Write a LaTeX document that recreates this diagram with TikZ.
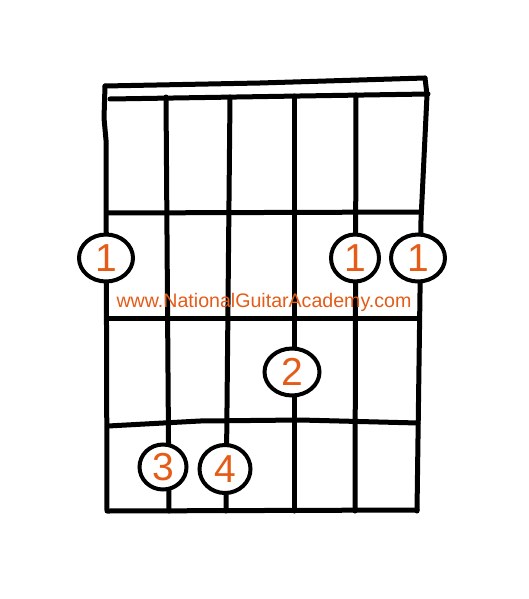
\documentclass[tikz,border=0pt]{standalone}
\usepackage{fontspec}
\setmainfont{Liberation Sans}
\usetikzlibrary{shapes.geometric}
\definecolor{ngaorange}{RGB}{228,92,24}
\begin{document}
\begin{tikzpicture}[x=1pt,y=-1pt,
  grid/.style={line width=5pt,line cap=round,line join=round,black},
  finger/.style={ellipse,draw=black,line width=4pt,fill=white,inner sep=0pt,
    text=ngaorange,font=\fontsize{39}{39}\selectfont},
  url/.style={text=ngaorange,font=\fontsize{19.6}{19.6}\selectfont,inner sep=0pt}]
\useasboundingbox[fill=white] (0,0) rectangle (528,599);
% frame
\draw[grid] (107,511) -- (106,140) -- (104,118) -- (105,86);
\draw[grid] (105,86) -- (260,83) -- (425,78);
\draw[grid] (425,78) -- (427,95) -- (421,220) -- (417,511);
\draw[grid] (110,99) -- (300,96) -- (428,94);
% frets
\draw[grid] (107,213) -- (420,212);
\draw[grid] (107,318) -- (419,318);
\draw[grid] (108,426) -- (200,421) -- (300,420) -- (418,423);
\draw[grid] (108,511) -- (417,510);
% strings
\draw[grid] (166,97) -- (169,511);
\draw[grid] (230,97) -- (226,511);
\draw[grid] (294,96) -- (294,511);
\draw[grid] (356,95) -- (355,511);
% fingers
\node[finger,minimum width=54pt,minimum height=47pt] (fa) at (106,258) {1};
\node[finger,minimum width=48pt,minimum height=47pt] (fb) at (355,258) {1};
\node[finger,minimum width=54pt,minimum height=47pt] (fc) at (418,258) {1};
\node[finger,minimum width=55pt,minimum height=47pt] (fd) at (292,372) {2};
\node[finger,minimum width=47pt,minimum height=45pt] (fe) at (163,467) {3};
\node[finger,minimum width=51pt,minimum height=48pt] (ff) at (225,469) {4};
% watermark
\node[url] (u) at (264,302) {www.NationalGuitarAcademy.com};
\end{tikzpicture}
\end{document}
